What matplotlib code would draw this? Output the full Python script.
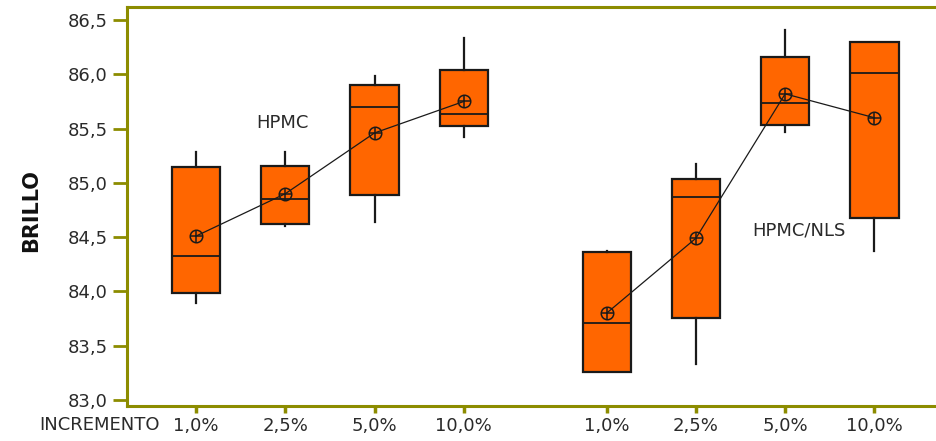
import matplotlib
matplotlib.use("Agg")
import matplotlib.pyplot as plt

# Brightness (BRILLO) by increment for two formulations
groups = ["HPMC", "HPMC/NLS"]
increments = ["1,0%", "2,5%", "5,0%", "10,0%"]

hpmc_whislo = [83.89, 84.60, 84.64, 85.42]
hpmc_q1     = [83.99, 84.62, 84.89, 85.52]
hpmc_med    = [84.33, 84.85, 85.70, 85.63]
hpmc_q3     = [85.15, 85.16, 85.90, 86.04]
hpmc_whishi = [85.28, 85.28, 85.98, 86.33]
hpmc_mean   = [84.51, 84.90, 85.46, 85.75]

nls_whislo = [83.26, 83.33, 85.47, 84.37]
nls_q1     = [83.26, 83.76, 85.53, 84.68]
nls_med    = [83.71, 84.87, 85.74, 86.01]
nls_q3     = [84.36, 85.04, 86.16, 86.30]
nls_whishi = [84.37, 85.17, 86.41, 86.30]
nls_mean   = [83.80, 84.49, 85.82, 85.60]

yticks = [83.0, 83.5, 84.0, 84.5, 85.0, 85.5, 86.0, 86.5]

pos_hpmc = [1, 2, 3, 4]
pos_nls = [5.6, 6.6, 7.6, 8.6]

OLIVE = "#8c8c00"
ORANGE = "#ff6600"
TXT = "#2a2a2a"
FS = 13

fig = plt.figure(figsize=(9.36, 4.41), dpi=100)
ax = fig.add_axes([127 / 936, 1 - 406 / 441, 1 - 127 / 936, (406 - 7) / 441])


def make_stats(lo, q1, med, q3, hi, mean):
    return [dict(whislo=a, q1=b, med=c, q3=d, whishi=e, mean=f, fliers=[])
            for a, b, c, d, e, f in zip(lo, q1, med, q3, hi, mean)]


stats_h = make_stats(hpmc_whislo, hpmc_q1, hpmc_med, hpmc_q3, hpmc_whishi, hpmc_mean)
stats_n = make_stats(nls_whislo, nls_q1, nls_med, nls_q3, nls_whishi, nls_mean)

box_kw = dict(
    widths=0.54, patch_artist=True, showcaps=False, showmeans=False,
    boxprops=dict(facecolor=ORANGE, edgecolor="#1a1a1a", linewidth=1.6),
    medianprops=dict(color="#1a1a1a", linewidth=1.3),
    whiskerprops=dict(color="#1a1a1a", linewidth=1.6),
    manage_ticks=False,
)
ax.bxp(stats_h, positions=pos_hpmc, **box_kw)
ax.bxp(stats_n, positions=pos_nls, **box_kw)

# mean markers joined by a thin line within each group
for pos, means in ((pos_hpmc, hpmc_mean), (pos_nls, nls_mean)):
    ax.plot(pos, means, color="#1a1a1a", linewidth=0.9, zorder=4)
    ax.plot(pos, means, linestyle="none", marker="o", markersize=9,
            markerfacecolor="none", markeredgecolor="#1a1a1a",
            markeredgewidth=1.1, zorder=5)
    ax.plot(pos, means, linestyle="none", marker="+", markersize=9,
            markeredgecolor="#1a1a1a", markeredgewidth=1.1, zorder=5)

ax.text(1.97, 85.55, "HPMC", ha="center", va="center", fontsize=FS,
        color=TXT, family="DejaVu Sans")
ax.text(7.76, 84.56, "HPMC/NLS", ha="center", va="center", fontsize=FS,
        color=TXT, family="DejaVu Sans")

ax.set_xlim(0.227, 9.29)
ax.set_ylim(82.945, 86.62)
ax.set_yticks(yticks)
ax.set_yticklabels([f"{v:.1f}".replace(".", ",") for v in yticks],
                   fontsize=FS, color=TXT)
ax.set_xticks(pos_hpmc + pos_nls)
ax.set_xticklabels(increments + increments, fontsize=FS, color=TXT)

ax.tick_params(axis="y", direction="out", length=10, width=2, color=OLIVE, pad=4)
ax.tick_params(axis="x", direction="out", length=5, width=2.5, color=OLIVE, pad=3)

for side in ("left", "top", "bottom"):
    ax.spines[side].set_color(OLIVE)
    ax.spines[side].set_linewidth(2.2)
ax.spines["right"].set_visible(False)

ax.set_ylabel("BRILLO", fontsize=15, fontweight="bold", color="#111111",
              family="DejaVu Sans")
ax.yaxis.set_label_coords(-(127 - 41) / 809, 0.49)

fig.text(160 / 936, 1 - 425 / 441, "INCREMENTO", ha="right", va="center",
         fontsize=FS, color=TXT)

fig.savefig("out.png", dpi=100)
